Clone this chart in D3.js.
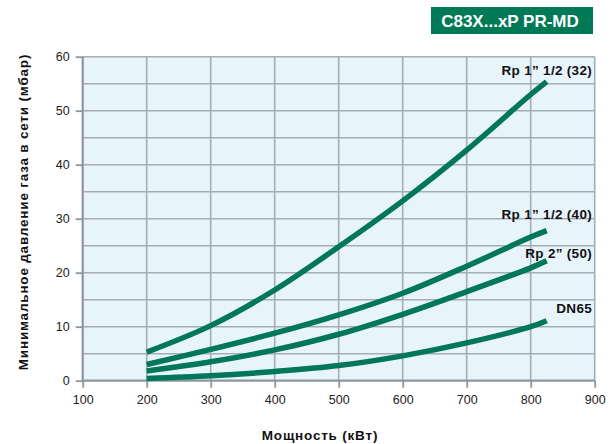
<!DOCTYPE html>
<html><head><meta charset="utf-8">
<script src="https://cdn.jsdelivr.net/npm/d3@7/dist/d3.min.js"></script>
<style>body{margin:0;background:#fff}svg{display:block}text{font-family:"Liberation Sans",Arial,Helvetica,sans-serif}</style>
</head><body><svg id="c" width="610" height="444"></svg>
<script>
const powerKW = [200, 300, 400, 500, 600, 700, 800, 825];
const seriesNames = ["Rp 1\u201D 1/2 (32)", "Rp 1\u201D 1/2 (40)", "Rp 2\u201D (50)", "DN65"];
const rp32 = [5.3, 10.2, 16.8, 24.8, 33.3, 42.7, 53.0, 55.4];
const rp40 = [3.0, 5.8, 8.8, 12.2, 16.2, 21.2, 26.6, 27.8];
const rp50 = [1.8, 3.5, 5.7, 8.6, 12.3, 16.5, 20.9, 22.2];
const dn65 = [0.4, 0.9, 1.7, 2.8, 4.6, 7.0, 10.0, 11.1];
const xTicks = [100, 200, 300, 400, 500, 600, 700, 800, 900];
const yTicks = [0, 10, 20, 30, 40, 50, 60];
const yGrid = [5, 10, 15, 20, 25, 30, 35, 40, 45, 50, 55, 60];
const title = "C83X...xP PR-MD";
const xTitle = "Мощность (кВт)";
const yTitle = "Минимальное давление газа в сети (мбар)";

const svg = d3.select("#c");
const x = d3.scaleLinear().domain([100, 900]).range([82.7, 594.7]);
const y = d3.scaleLinear().domain([0, 60]).range([380.7, 56.7]);
const green = "#00775a", grid = "#a4adb4", axisC = "#8c969e";

svg.append("rect").attr("x", x(100)).attr("y", y(60)).attr("width", x(900) - x(100)).attr("height", y(0) - y(60)).attr("fill", "#e8f4fc");

svg.append("g").selectAll("line").data(xTicks.slice(1)).join("line")
  .attr("x1", d => x(d)).attr("x2", d => x(d)).attr("y1", y(60)).attr("y2", y(0))
  .attr("stroke", grid).attr("stroke-width", 1.6);
svg.append("g").selectAll("line").data(yGrid).join("line")
  .attr("x1", x(100)).attr("x2", x(900)).attr("y1", d => y(d)).attr("y2", d => y(d))
  .attr("stroke", grid).attr("stroke-width", 1.6);

const xAxis = svg.append("g").attr("transform", `translate(0,${y(0)})`)
  .call(d3.axisBottom(x).tickValues(xTicks).tickSize(7).tickPadding(7));
const yAxis = svg.append("g").attr("transform", `translate(${x(100)},0)`)
  .call(d3.axisLeft(y).tickValues(yTicks).tickSize(7).tickPadding(6));
[xAxis, yAxis].forEach(a => {
  a.select(".domain").attr("stroke", axisC).attr("stroke-width", 2.2);
  a.selectAll(".tick line").attr("stroke", axisC).attr("stroke-width", 1.8);
  a.selectAll(".tick text").attr("fill", "#222").style("font-size", "12.5px").style("font-family", "Liberation Sans, Arial, sans-serif");
});
xAxis.select(".domain").attr("d", `M${x(100)},0H${x(900)}`);
yAxis.select(".domain").attr("d", `M0,${y(0)}V${y(60)}`);

const series = [rp32, rp40, rp50, dn65];
const line = d3.line().x((d, i) => x(powerKW[i])).y(d => y(d)).curve(d3.curveCatmullRom.alpha(0.5));
svg.append("g").selectAll("path").data(series).join("path")
  .attr("d", d => line(d)).attr("fill", "none").attr("stroke", green)
  .attr("stroke-width", 5.5).attr("stroke-linecap", "butt");

const labelY = [74.5, 219, 257.5, 313];
svg.append("g").selectAll("text").data(seriesNames).join("text")
  .attr("x", 592).attr("y", (d, i) => labelY[i]).attr("text-anchor", "end")
  .attr("font-weight", "bold").attr("font-size", "13.5px").attr("letter-spacing", "0.3px").attr("fill", "#111")
  .text(d => d);

svg.append("rect").attr("x", 431).attr("y", 7).attr("width", 162).attr("height", 27).attr("fill", "#007a56");
svg.append("text").attr("x", 510).attr("y", 26.5).attr("text-anchor", "middle")
  .attr("font-weight", "bold").attr("font-size", "17px").attr("fill", "#fff").text(title);

svg.append("text").attr("x", 320).attr("y", 440).attr("text-anchor", "middle")
  .attr("font-weight", "bold").attr("font-size", "13.5px").attr("letter-spacing", "0.8px").attr("fill", "#111").text(xTitle);
svg.append("text").attr("transform", "translate(28,212) rotate(-90)").attr("text-anchor", "middle")
  .attr("font-weight", "bold").attr("font-size", "13.5px").attr("letter-spacing", "0.8px").attr("fill", "#111").text(yTitle);
</script></body></html>
